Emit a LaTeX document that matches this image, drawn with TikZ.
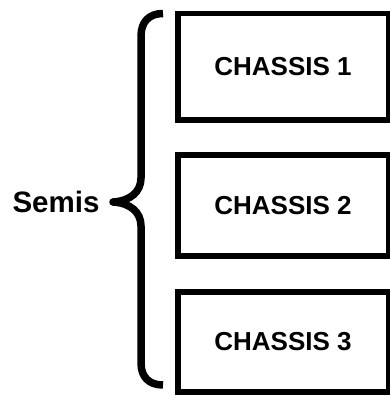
\documentclass[tikz,border=0pt]{standalone}
\usepackage{fontspec}
\setmainfont{Liberation Sans}
\begin{document}
\begin{tikzpicture}[x=1pt,y=-1pt,
  chassis/.style={draw=black, line width=5.5pt, minimum width=210.5pt, minimum height=#1, inner sep=0pt,
    font=\fontsize{26}{31}\selectfont\bfseries, anchor=north west},
  bracestyle/.style={draw=black, line width=7.5pt, line cap=butt, line join=round},
  lbl/.style={font=\fontsize{29.5}{35}\selectfont\bfseries, inner sep=0pt}]
\useasboundingbox (0,0) rectangle (389,396);
% boxes (line centers)
\node[chassis=106pt] (c1) at (175,11) {CHASSIS 1};
\node[chassis=101pt] (c2) at (175,152) {CHASSIS 2};
\node[chassis=100pt] (c3) at (175,289) {CHASSIS 3};
% brace
\draw[bracestyle] (163,13.5) .. controls (149,13.5) and (141,22) .. (141,36)
  -- (141,178) .. controls (141,192) and (130,201) .. (113,202)
  .. controls (130,203) and (141,212) .. (141,226)
  -- (141,363) .. controls (141,377) and (149,385) .. (163,385);
\node[lbl] (semis) at (56,202) {Semis};
\end{tikzpicture}
\end{document}
